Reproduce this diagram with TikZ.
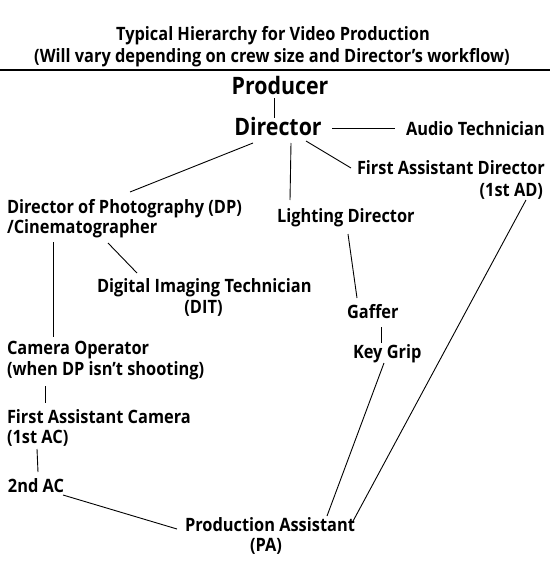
\documentclass[tikz,border=0pt]{standalone}
\usepackage{fontspec}
\newfontfamily\lblfont{Open Sans}[FakeStretch=0.89]
\usetikzlibrary{calc}
\tikzset{
  lbl/.style={inner sep=0pt, outer sep=0pt, font=\lblfont\fontsize{18.4}{20}\selectfont\bfseries},
  big/.style={inner sep=0pt, outer sep=0pt, font=\lblfont\fontsize{24}{26}\selectfont\bfseries},
  link/.style={draw=black, line width=0.9pt},
}
\begin{document}
\begin{tikzpicture}[x=1pt,y=-1pt]
\useasboundingbox[fill=white] (0,0) rectangle (550,581);
% title
\node[lbl, anchor=base] (t1) at (273,40) {Typical Hierarchy for Video Production};
\node[lbl, anchor=base] (t2) at (272,62) {(Will vary depending on crew size and Director’s workflow)};
\coordinate (rl) at (0,70);
\coordinate (rr) at (550,70);
\draw[line width=1.4pt] (rl) -- (rr);
% nodes
\node[big, anchor=base] (prod) at (280,94) {Producer};
\node[big, anchor=base] (dir) at (278,135) {Director};
\node[lbl, anchor=base west] (aud) at (406,135) {Audio Technician};
\node[lbl, anchor=base west] (fad) at (357,174) {First Assistant Director};
\node[lbl, anchor=base east] (fad2) at (543,196) {(1st AD)};
\node[lbl, anchor=base west] (dp) at (7,213) {Director of Photography (DP)};
\node[lbl, anchor=base west] (dp2) at (7,233) {/Cinematographer};
\node[lbl, anchor=base west] (ld) at (277,222) {Lighting Director};
\node[lbl, anchor=base west] (dit) at (97,292) {Digital Imaging Technician};
\node[lbl, anchor=base] (dit2) at (203.5,313) {(DIT)};
\node[lbl, anchor=base west] (gaf) at (347,318) {Gaffer};
\node[lbl, anchor=base west] (kg) at (353,358) {Key Grip};
\node[lbl, anchor=base west] (cam) at (7,354) {Camera Operator};
\node[lbl, anchor=base west] (cam2) at (7,375) {(when DP isn’t shooting)};
\node[lbl, anchor=base west] (ac1) at (7,423) {First Assistant Camera};
\node[lbl, anchor=base west] (ac1b) at (7,443) {(1st AC)};
\node[lbl, anchor=base west] (ac2) at (8,492) {2nd AC};
\node[lbl, anchor=base west] (pa) at (185,531) {Production Assistant};
\node[lbl, anchor=base] (pa2) at (266,551) {(PA)};
% connectors
\draw[link] ([shift={(-6,4)}]prod.base) -- ([shift={(-4,-17)}]dir.base);
\draw[link] ([shift={(54,-7)}]dir.base) -- ([shift={(-11,-7)}]aud.base west);
\draw[link] ([shift={(-25,8)}]dir.base) -- ([shift={(123,-21)}]dp.base west);
\draw[link] ([shift={(13,8)}]dir.base) -- ([shift={(13,-22)}]ld.base west);
\draw[link] ([shift={(28,6)}]dir.base) -- ([shift={(-6,-6)}]fad.base west);
\draw[link] ([shift={(101,10)}]dp2.base west) -- ([shift={(40,-19)}]dit.base west);
\draw[link] ([shift={(46,9)}]dp2.base west) -- ([shift={(46,-17)}]cam.base west);
\draw[link] ([shift={(71,12)}]ld.base west) -- ([shift={(10,-20)}]gaf.base west);
\draw[link] ([shift={(34,9)}]gaf.base west) -- ([shift={(28,-15)}]kg.base west);
\draw[link] ([shift={(31,5)}]kg.base west) -- ([shift={(142,-15)}]pa.base west);
\draw[link] ([shift={(-17,4)}]fad2.base east) -- ([shift={(167,-8)}]pa.base west);
\draw[link] ([shift={(38,11)}]cam2.base west) -- ([shift={(38,-20)}]ac1.base west);
\draw[link] ([shift={(30,6)}]ac1b.base west) -- ([shift={(30,-20)}]ac2.base west);
\draw[link] ([shift={(55,3)}]ac2.base west) -- ([shift={(-8,-2)}]pa.base west);
\end{tikzpicture}
\end{document}
